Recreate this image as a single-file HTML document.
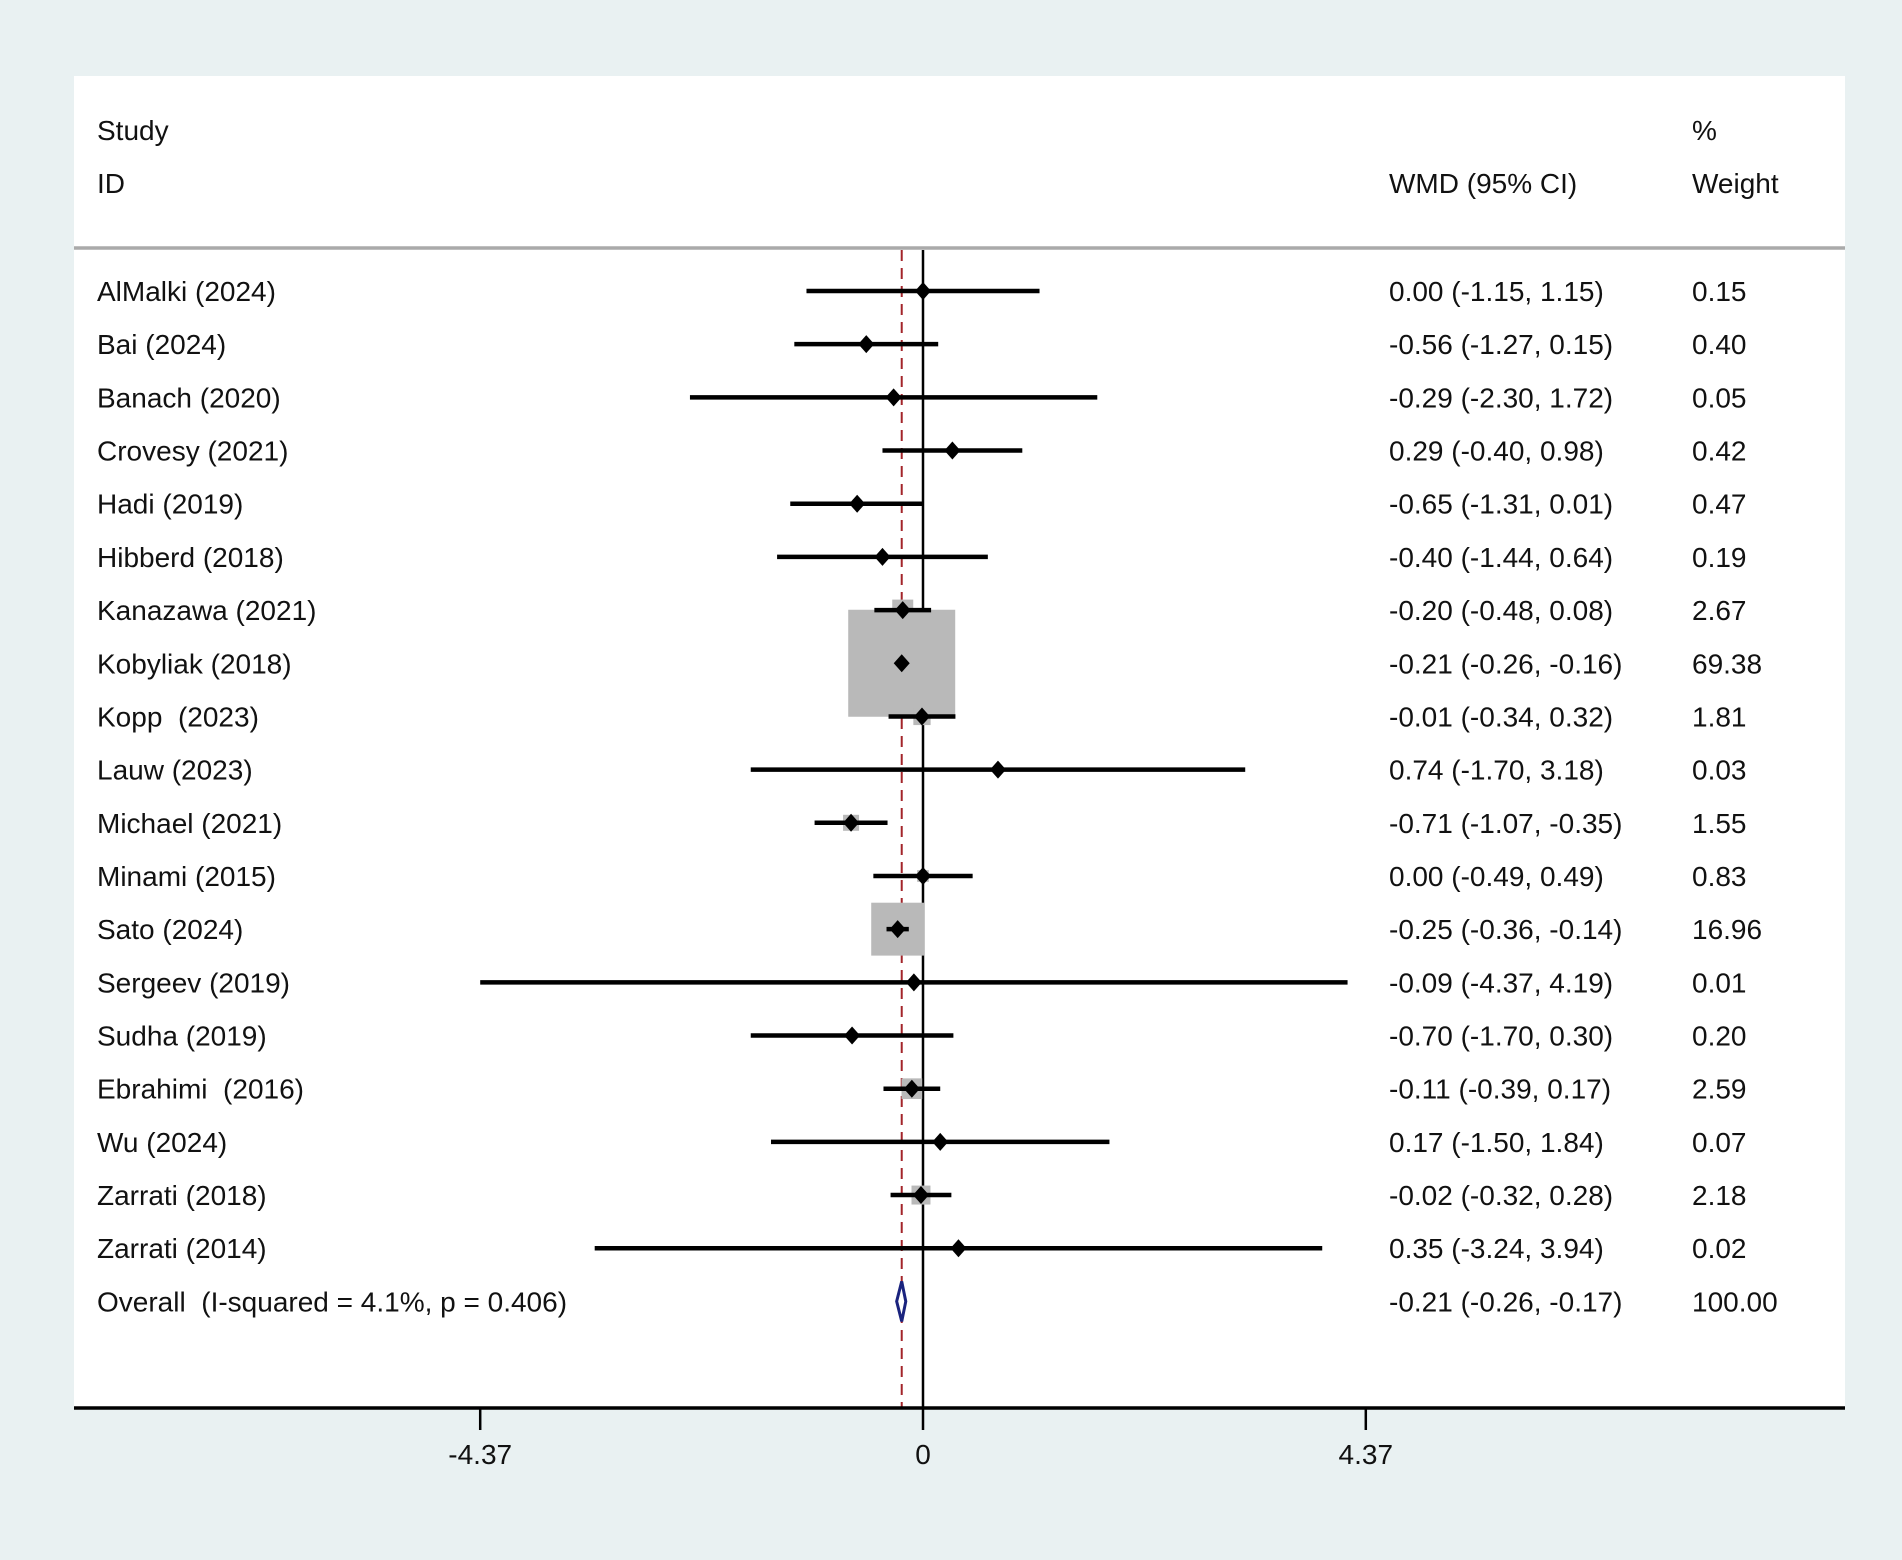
<!DOCTYPE html>
<html><head><meta charset="utf-8"><style>
html,body{margin:0;padding:0;background:#e9f1f2;}
svg{display:block;font-family:"Liberation Sans",Arial,sans-serif;}
text{white-space:pre;}
</style></head><body>
<svg id="plot" width="1902" height="1560" viewBox="0 0 1902 1560">
<rect x="0" y="0" width="1902" height="1560" fill="#e9f1f2"/>
<rect x="74" y="76" width="1771" height="1331" fill="#ffffff"/>
<g font-size="28" fill="#111">
<text x="97" y="140">Study</text>
<text x="97" y="193">ID</text>
<text x="1389" y="193">WMD (95% CI)</text>
<text x="1692" y="140">%</text>
<text x="1692" y="193">Weight</text>
</g>
<line x1="74" x2="1845" y1="248" y2="248" stroke="#aaaaaa" stroke-width="3.5"/>
<g id="marks"></g>
</svg>
<script>
const studies = ["AlMalki (2024)","Bai (2024)","Banach (2020)","Crovesy (2021)","Hadi (2019)","Hibberd (2018)","Kanazawa (2021)","Kobyliak (2018)","Kopp  (2023)","Lauw (2023)","Michael (2021)","Minami (2015)","Sato (2024)","Sergeev (2019)","Sudha (2019)","Ebrahimi  (2016)","Wu (2024)","Zarrati (2018)","Zarrati (2014)"];
const est = [0.00,-0.56,-0.29,0.29,-0.65,-0.40,-0.20,-0.21,-0.01,0.74,-0.71,0.00,-0.25,-0.09,-0.70,-0.11,0.17,-0.02,0.35];
const lo = [-1.15,-1.27,-2.30,-0.40,-1.31,-1.44,-0.48,-0.26,-0.34,-1.70,-1.07,-0.49,-0.36,-4.37,-1.70,-0.39,-1.50,-0.32,-3.24];
const hi = [1.15,0.15,1.72,0.98,0.01,0.64,0.08,-0.16,0.32,3.18,-0.35,0.49,-0.14,4.19,0.30,0.17,1.84,0.28,3.94];
const weights = [0.15,0.40,0.05,0.42,0.47,0.19,2.67,69.38,1.81,0.03,1.55,0.83,16.96,0.01,0.20,2.59,0.07,2.18,0.02];
const ciLabels = ["0.00 (-1.15, 1.15)","-0.56 (-1.27, 0.15)","-0.29 (-2.30, 1.72)","0.29 (-0.40, 0.98)","-0.65 (-1.31, 0.01)","-0.40 (-1.44, 0.64)","-0.20 (-0.48, 0.08)","-0.21 (-0.26, -0.16)","-0.01 (-0.34, 0.32)","0.74 (-1.70, 3.18)","-0.71 (-1.07, -0.35)","0.00 (-0.49, 0.49)","-0.25 (-0.36, -0.14)","-0.09 (-4.37, 4.19)","-0.70 (-1.70, 0.30)","-0.11 (-0.39, 0.17)","0.17 (-1.50, 1.84)","-0.02 (-0.32, 0.28)","0.35 (-3.24, 3.94)"];
const weightLabels = ["0.15","0.40","0.05","0.42","0.47","0.19","2.67","69.38","1.81","0.03","1.55","0.83","16.96","0.01","0.20","2.59","0.07","2.18","0.02"];
const overall = {label:"Overall  (I-squared = 4.1%, p = 0.406)", est:-0.21, lo:-0.26, hi:-0.17, ci:"-0.21 (-0.26, -0.17)", w:"100.00"};
const xTicks = [-4.37, 0, 4.37];
const xTickLabels = ["-4.37","0","4.37"];

const NS="http://www.w3.org/2000/svg";
const x = v => 923 + v * (442.8/4.37);
const rowY = i => 291 + i * 53.18;
const g = document.getElementById('marks');
function mk(tag, attrs){const e=document.createElementNS(NS,tag);for(const k in attrs)e.setAttribute(k,attrs[k]);g.appendChild(e);return e;}
const plotTop=250, plotBot=1407;
const FS=28;

let e = mk('line',{x1:x(0),x2:x(0),y1:plotTop,y2:plotBot,stroke:'#000','stroke-width':2.5});


e = mk('line',{x1:x(overall.est),x2:x(overall.est),y1:plotTop,y2:plotBot,stroke:'#a3242a','stroke-width':2,'stroke-dasharray':'11,7'});



studies.forEach((s,i)=>{
  const side = 107*Math.sqrt(weights[i]/69.38);
  const b = mk('rect',{x:x(est[i])-side/2,y:rowY(i)-side/2,width:side,height:side,fill:'#b9b9b9'});
  
  
});
studies.forEach((s,i)=>{
  const y=rowY(i);
  const l = mk('line',{x1:x(lo[i]),x2:x(hi[i]),y1:y,y2:y,stroke:'#000','stroke-width':4.5});
  
  
  const cx=x(est[i]);
  const p = mk('polygon',{points:`${cx-8},${y} ${cx},${y-9} ${cx+8},${y} ${cx},${y+9}`,fill:'#000'});
  
  
  const t1 = mk('text',{x:97,y:y+10,'font-size':FS,fill:'#111'}); t1.textContent=s;
  
  
  const t2 = mk('text',{x:1389,y:y+10,'font-size':FS,fill:'#111'}); t2.textContent=ciLabels[i];
  
  
  const t3 = mk('text',{x:1692,y:y+10,'font-size':FS,fill:'#111'}); t3.textContent=weightLabels[i];
  
  
});
{
  const y=rowY(studies.length);
  const d = mk('polygon',{points:`${x(overall.lo)},${y} ${x(overall.est)},${y-20} ${x(overall.hi)},${y} ${x(overall.est)},${y+20}`,fill:'#fff',stroke:'#1a237e','stroke-width':3});
  
  
  const t1 = mk('text',{x:97,y:y+10,'font-size':FS,fill:'#111'}); t1.textContent=overall.label;
  
  
  const t2 = mk('text',{x:1389,y:y+10,'font-size':FS,fill:'#111'}); t2.textContent=overall.ci;
  
  
  const t3 = mk('text',{x:1692,y:y+10,'font-size':FS,fill:'#111'}); t3.textContent=overall.w;
  
  
}
e = mk('line',{x1:74,x2:1845,y1:1408,y2:1408,stroke:'#000','stroke-width':3.5});


xTicks.forEach((v,i)=>{
  const t = mk('line',{x1:x(v),x2:x(v),y1:1408,y2:1430,stroke:'#000','stroke-width':2.5});
  
  
  const lb = mk('text',{x:x(v),y:1464,'font-size':FS,fill:'#111','text-anchor':'middle'}); lb.textContent=xTickLabels[i];
  
  
});
</script>
</body></html>
